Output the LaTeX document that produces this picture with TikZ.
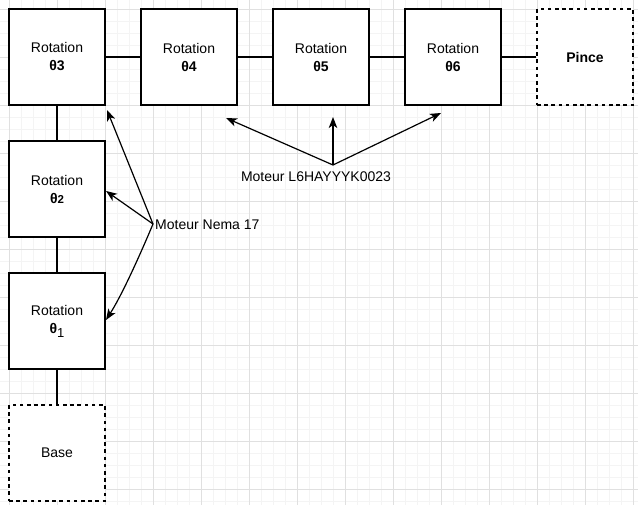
\documentclass[tikz,border=0pt]{standalone}
\usepackage{fontspec}
\setmainfont{Liberation Sans}
\usetikzlibrary{arrows.meta}
\definecolor{gminor}{RGB}{244,244,244}
\definecolor{gmajor}{RGB}{224,224,224}
\tikzset{
  box/.style={draw=black, line width=1.2pt, fill=white, minimum width=96pt, minimum height=96pt, inner sep=0pt, align=center, font=\fontsize{14}{18}\selectfont},
  dbox/.style={box, dash pattern=on 3.6pt off 3.6pt},
  link/.style={line width=1.2pt},
  arr/.style={line width=1.2pt, -{Stealth[length=11pt,width=8.5pt,inset=3pt]}},
  lbl/.style={font=\fontsize{14}{16}\selectfont, inner sep=0pt}
}
\begin{document}
\begin{tikzpicture}[x=1pt,y=-1pt]
\useasboundingbox (0,0) rectangle (638,505);
\fill[white] (0,0) rectangle (638,505);
% grid
\foreach \i in {0,...,53} {\draw[gminor, line width=0.9pt] ({9+12*\i},0) -- ({9+12*\i},505);}
\foreach \i in {0,...,41} {\draw[gminor, line width=0.9pt] (0,{9+12*\i}) -- (638,{9+12*\i});}
\foreach \i in {0,...,13} {\draw[gmajor, line width=0.9pt] ({9+48*\i},0) -- ({9+48*\i},505);}
\foreach \i in {0,...,10} {\draw[gmajor, line width=0.9pt] (0,{9+48*\i}) -- (638,{9+48*\i});}
% connectors between boxes (drawn first, boxes cover them)
\coordinate (c3) at (57,57);
% boxes
\node[box] (t3) at (57,57) {Rotation\\\textbf{θ3}};
\node[box] (t4) at (189,57) {Rotation\\\textbf{θ4}};
\node[box] (t5) at (321,57) {Rotation\\\textbf{θ5}};
\node[box] (t6) at (453,57) {Rotation\\\textbf{θ6}};
\node[dbox, font=\fontsize{14}{18}\selectfont\bfseries] (pince) at (585,57) {Pince};
\node[box] (t2) at (57,189) {Rotation\\\textbf{θ{\fontsize{11.5}{12}\selectfont 2}}};
\node[box] (t1) at (57,321) {Rotation\\\textbf{θ}\raisebox{-4pt}{\fontsize{13}{13}\selectfont 1}};
\node[dbox] (base) at (57,453) {Base};
\draw[link] (t3) -- (t4);
\draw[link] (t4) -- (t5);
\draw[link] (t5) -- (t6);
\draw[link] (t6) -- (pince);
\draw[link] (t3) -- (t2);
\draw[link] (t2) -- (t1);
\draw[link] (t1) -- (base);
% labels
\node[lbl, anchor=west] (nema) at (155,225) {Moteur Nema 17};
\node[lbl] (l6) at (316,177) {Moteur L6HAYYYK0023};
\coordinate (nemaO) at (153,224);
\coordinate (l6O) at (333,165);
\coordinate (a3) at (107,110);
\coordinate (a2) at (106,191);
\coordinate (a1) at (106,320);
\coordinate (b4) at (226,118);
\coordinate (b5) at (333,117);
\coordinate (b6) at (441,113);
\draw[arr] (nemaO) -- (a3);
\draw[arr] (nemaO) -- (a2);
\draw[arr] (nemaO) .. controls (140,255) and (122,295) .. (a1);
\draw[arr] (l6O) -- (b4);
\draw[arr] (l6O) -- (b5);
\draw[arr] (l6O) -- (b6);
\end{tikzpicture}
\end{document}
